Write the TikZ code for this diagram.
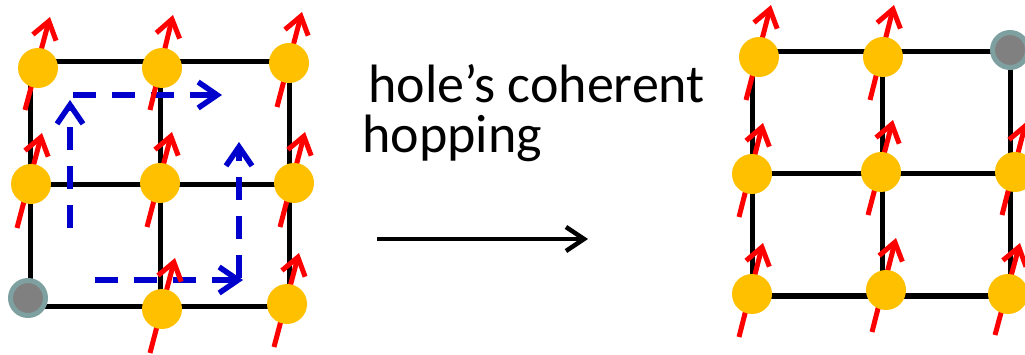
\documentclass[tikz,border=0pt]{standalone}
\usepackage{fontspec}
\setmainfont{Carlito}
\usetikzlibrary{arrows.meta}
\definecolor{gold}{RGB}{255,192,0}
\definecolor{holefill}{RGB}{128,128,128}
\definecolor{holeedge}{RGB}{127,160,160}
\definecolor{pathblue}{RGB}{0,0,204}
\tikzset{
  bond/.style={line width=5pt, black},
  site/.style={circle, fill=gold, minimum size=40pt, inner sep=0pt},
  hole/.style={circle, fill=holefill, draw=holeedge, line width=5pt, minimum size=35pt, inner sep=0pt},
  spin/.style={red, line width=5pt, -{Straight Barb[length=17pt,width=24pt,line width=5pt]}},
  hop/.style={pathblue, line width=5.5pt, dash pattern=on 23pt off 16pt, -{Straight Barb[length=19pt,width=26pt,line width=5.5pt]}},
  move/.style={black, line width=4.5pt, -{Straight Barb[length=18pt,width=24pt,line width=4.5pt]}},
  label/.style={font=\fontsize{54}{60}\selectfont, inner sep=0pt, anchor=base west}
}
\begin{document}
\begin{tikzpicture}[x=1pt,y=-1pt]
\useasboundingbox (0,0) rectangle (1025,355);
% ---------- left lattice ----------
\draw[bond] (30,62) rectangle (289,306);
\draw[bond] (30,185) -- (289,185);
\draw[bond] (160,62) -- (160,306);
% blue hopping paths
\coordinate (b1s) at (70,228); \coordinate (b1e) at (70,100);
\coordinate (b2s) at (73,95);  \coordinate (b2e) at (222,95);
\coordinate (b3s) at (95,280); \coordinate (b3e) at (243,280);
\coordinate (b4s) at (239,278);\coordinate (b4e) at (239,142);
\draw[hop] (b1s) -- (b1e);
\draw[hop] (b2s) -- (b2e);
\draw[hop] (b3s) -- (b3e);
\draw[hop] (b4s) -- (b4e);
% spins
\draw[spin] (25,110) -- (50,17);
\draw[spin] (150,110) -- (173,15);
\draw[spin] (277,107) -- (302,12);
\draw[spin] (17,228) -- (42,133);
\draw[spin] (147,227) -- (172,132);
\draw[spin] (280,227) -- (305,132);
\draw[spin] (150,353) -- (175,258);
\draw[spin] (274,347) -- (299,253);
% sites
\node[site] (L11) at (38,68) {};
\node[site] (L12) at (162,68) {};
\node[site] (L13) at (289,63) {};
\node[site] (L21) at (31,184) {};
\node[site] (L22) at (160,183) {};
\node[site] (L23) at (294,183) {};
\node[hole] (L31) at (28,298) {};
\node[site] (L32) at (162,309) {};
\node[site] (L33) at (287,304) {};
% ---------- middle ----------
\node[label] (t1) at (368,103) {hole’s coherent};
\node[label] (t2) at (362,153) {hopping};
\coordinate (ms) at (377,239);
\coordinate (me) at (588,239);
\draw[move] (ms) -- (me);
% ---------- right lattice ----------
\draw[bond] (752,52) rectangle (1010,296);
\draw[bond] (752,174) -- (1025,174);
\draw[bond] (882,52) -- (882,296);
\draw[spin] (746,100) -- (771,5);
\draw[spin] (870,100) -- (894,5);
\draw[spin] (739,217) -- (763,123);
\draw[spin] (868,215) -- (893,120);
\draw[spin] (1002,215) -- (1026,122);
\draw[spin] (739,337) -- (763,243);
\draw[spin] (872,332) -- (896,238);
\draw[spin] (995,335) -- (1020,243);
\node[site] (R11) at (759,57) {};
\node[site] (R12) at (883,57) {};
\node[hole] (R13) at (1010,50) {};
\node[site] (R21) at (752,174) {};
\node[site] (R22) at (881,172) {};
\node[site] (R23) at (1015,172) {};
\node[site] (R31) at (752,294) {};
\node[site] (R32) at (886,290) {};
\node[site] (R33) at (1008,294) {};
\end{tikzpicture}
\end{document}
